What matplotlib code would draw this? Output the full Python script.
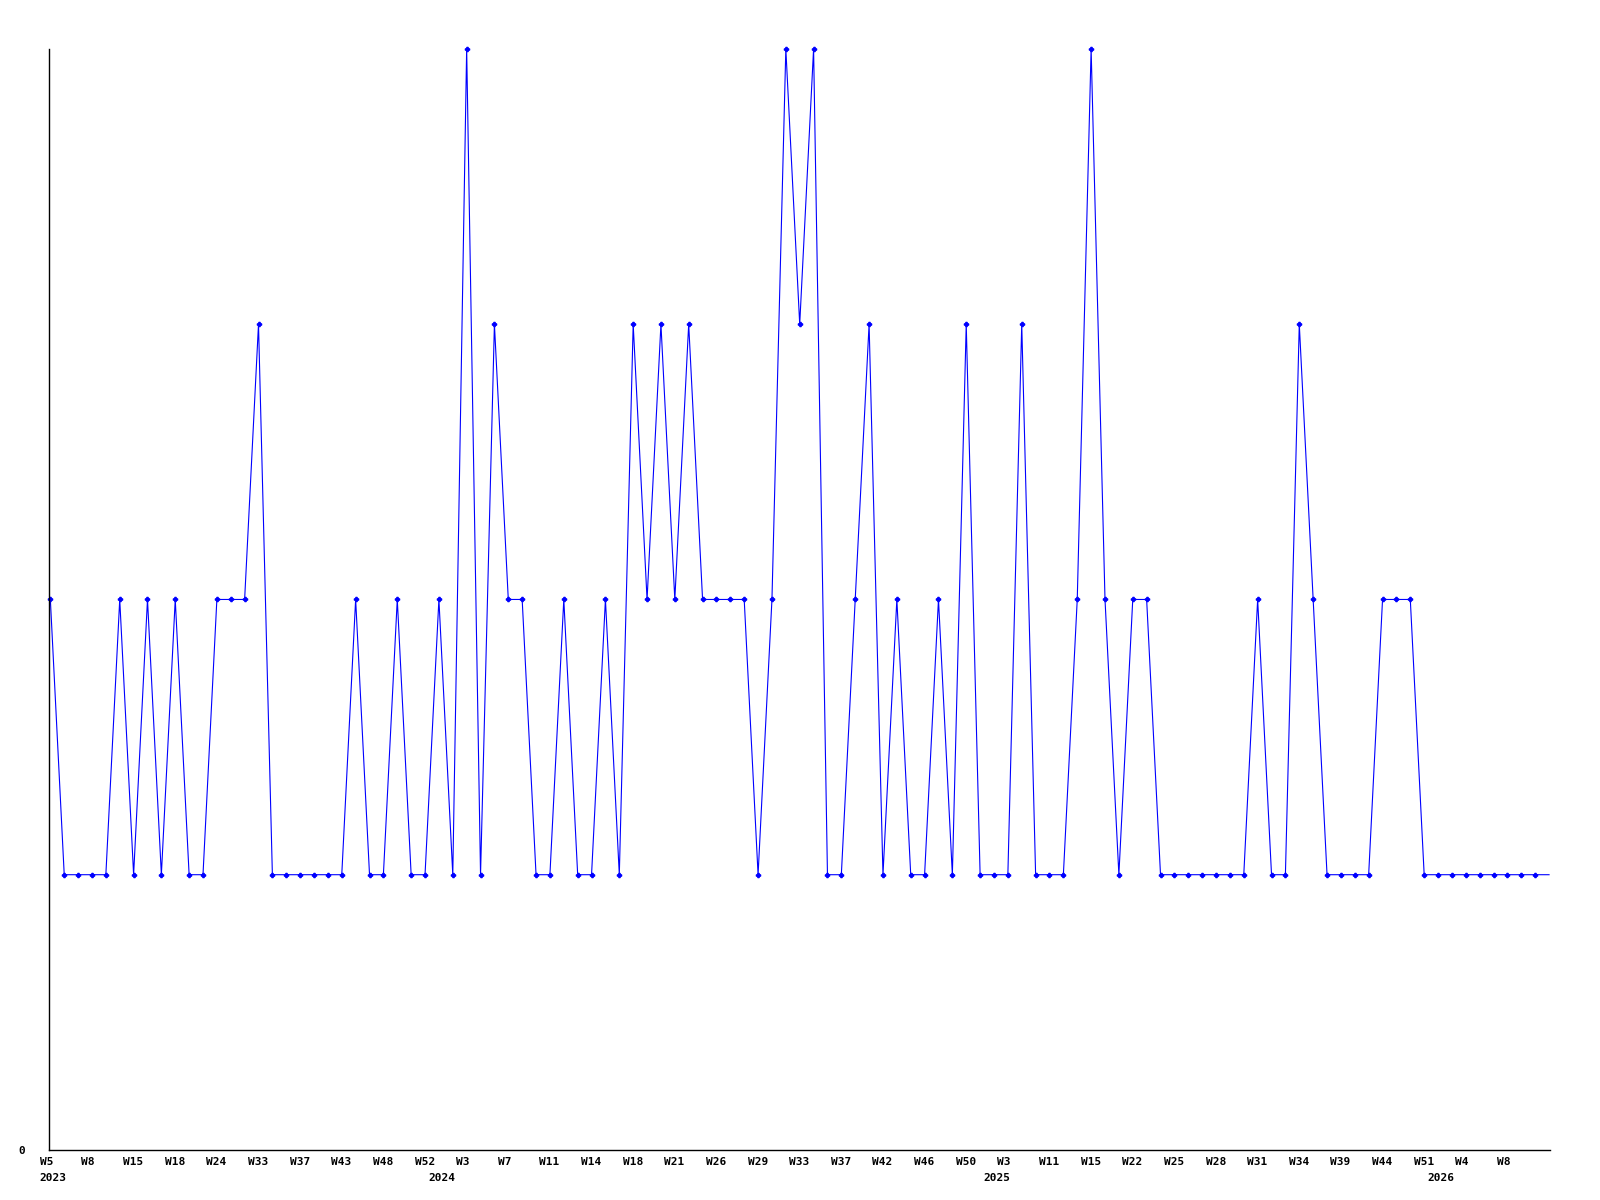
import matplotlib
matplotlib.use("Agg")
from matplotlib import pyplot as plt
import matplotlib.transforms as mtransforms
import numpy as np

# Values per week (one point per week with data)
values = [
    2, 1, 1, 1, 1, 2, 1, 2, 1, 2, 1, 1, 2, 2, 2, 3, 1, 1, 1, 1,
    1, 1, 2, 1, 1, 2, 1, 1, 2, 1, 4, 1, 3, 2, 2, 1, 1, 2, 1, 1,
    2, 1, 3, 2, 3, 2, 3, 2, 2, 2, 2, 1, 2, 4, 3, 4, 1, 1, 2, 3,
    1, 2, 1, 1, 2, 1, 3, 1, 1, 1, 3, 1, 1, 1, 2, 4, 2, 1, 2, 2,
    1, 1, 1, 1, 1, 1, 1, 2, 1, 1, 3, 2, 1, 1, 1, 1, 2, 2, 2, 1,
    1, 1, 1, 1, 1, 1, 1, 1, 1,
]

# Week labels, shown on every third point
week_labels = [
    "W5", "W8", "W15", "W18", "W24", "W33", "W37", "W43", "W48", "W52",
    "W3", "W7", "W11", "W14", "W18", "W21", "W26", "W29", "W33", "W37",
    "W42", "W46", "W50", "W3", "W11", "W15", "W22", "W25", "W28", "W31",
    "W34", "W39", "W44", "W51", "W4", "W8",
]

# Year labels and the point index where each year starts
years = ["2023", "2024", "2025", "2026"]
year_idx = [0, 28, 68, 100]

x = np.arange(len(values))

fig = plt.figure(figsize=(16, 12), dpi=100)
ax = fig.add_axes([0.0306, 0.0417, 0.938, 0.9175])

ax.plot(x, values, color="#0000ff", linewidth=0.8,
        marker="P", markersize=3, markevery=list(range(len(values) - 1)),
        clip_on=False)

ax.set_xlim(-0.1, len(values) - 0.95)
ax.set_ylim(0, 4)

# Only the left and bottom axis lines
for side in ["top", "right"]:
    ax.spines[side].set_visible(False)
for side in ["left", "bottom"]:
    ax.spines[side].set_linewidth(1.0)
    ax.spines[side].set_color("black")

font = dict(family="DejaVu Sans Mono", weight="bold", size=8)

ax.set_yticks([0])
ax.set_yticklabels(["0"], **font)
ax.tick_params(axis="y", length=0, pad=17)

# labels start a little left of their point
shift = mtransforms.ScaledTranslation(-10.5 / 100, 0, fig.dpi_scale_trans)

ax.set_xticks(x[::3][:len(week_labels)])
ax.set_xticklabels(week_labels, ha="left", **font)
ax.tick_params(axis="x", length=0, pad=5)
for lbl in ax.get_xticklabels():
    lbl.set_transform(lbl.get_transform() + shift)

trans = mtransforms.blended_transform_factory(ax.transData, ax.transAxes)
for yr, i in zip(years, year_idx):
    ax.text(x[i], -0.0252, yr, transform=trans + shift,
            ha="left", va="center", **font)

plt.savefig("out.png", dpi=100)
